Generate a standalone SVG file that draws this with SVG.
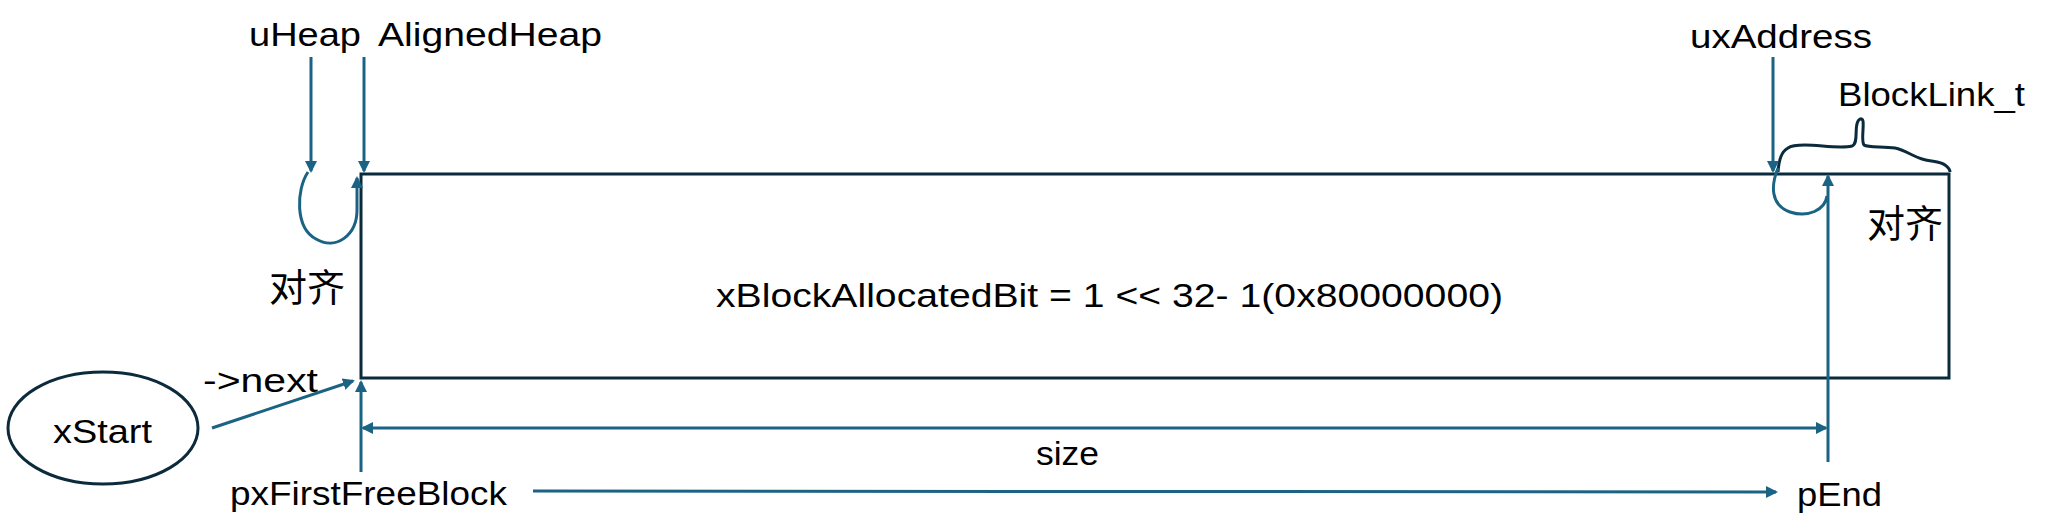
<svg xmlns="http://www.w3.org/2000/svg" width="2050" height="525" viewBox="0 0 2050 525">
<style>
text{font-family:"Liberation Sans","Noto Sans CJK SC",sans-serif;fill:#000;font-size:33px}
.cjk{font-family:"Noto Sans CJK SC",sans-serif;font-size:38px}
.ar{stroke:#1b6384;stroke-width:3;fill:none}
.bx{stroke:#0b2a3c;stroke-width:3;fill:none}
</style>
<defs>
<marker id="ah" markerWidth="14" markerHeight="14" refX="10" refY="6" orient="auto-start-reverse" markerUnits="userSpaceOnUse">
<path d="M0,0 L12,6 L0,12 z" fill="#1b6384"/>
</marker>
</defs>
<g id="heap-block">
<rect class="bx" x="361" y="174" width="1588" height="204" fill="#fff"/>
<text x="716" y="307" textLength="787" lengthAdjust="spacingAndGlyphs">xBlockAllocatedBit = 1 &lt;&lt; 32- 1(0x80000000)</text>
</g>
<g id="xStart">
<ellipse class="bx" cx="103" cy="428" rx="95" ry="56"/>
<text x="53" y="443" textLength="99" lengthAdjust="spacingAndGlyphs">xStart</text>
</g>
<g id="label-uHeap"><text x="249" y="46" textLength="112" lengthAdjust="spacingAndGlyphs">uHeap</text></g>
<g id="label-AlignedHeap"><text x="378" y="46" textLength="224" lengthAdjust="spacingAndGlyphs">AlignedHeap</text></g>
<g id="label-uxAddress"><text x="1690" y="48" textLength="182" lengthAdjust="spacingAndGlyphs">uxAddress</text></g>
<g id="label-BlockLink_t"><text x="1838" y="106" textLength="187" lengthAdjust="spacingAndGlyphs">BlockLink_t</text></g>
<g id="label-align-left"><text class="cjk" x="269" y="301" textLength="76" lengthAdjust="spacingAndGlyphs">对齐</text></g>
<g id="label-align-right"><text class="cjk" x="1867" y="237" textLength="76" lengthAdjust="spacingAndGlyphs">对齐</text></g>
<g id="label-next"><text x="203" y="392" textLength="115" lengthAdjust="spacingAndGlyphs">-&gt;next</text></g>
<g id="label-size"><text x="1036" y="465" textLength="63" lengthAdjust="spacingAndGlyphs">size</text></g>
<g id="label-pxFirstFreeBlock"><text x="230" y="505" textLength="277" lengthAdjust="spacingAndGlyphs">pxFirstFreeBlock</text></g>
<g id="label-pEnd"><text x="1797" y="506" font-size="36" textLength="85" lengthAdjust="spacingAndGlyphs">pEnd</text></g>
<g id="brace">
<path class="bx" d="M1778,172 C1779,160 1781,152 1788,148 C1792,145 1798,145 1805,145 C1820,145 1840,149 1852,146 C1858,144 1855,131 1857,124 C1858,119 1862,117 1863,121 C1864,128 1861,141 1864,145 C1868,148 1884,146 1895,148 C1905,150 1912,156 1922,159 C1932,162 1940,161 1945,165 C1949,168 1950,170 1950,172"/>
</g>
<g id="connectors">
<line class="ar" x1="311" y1="57" x2="311" y2="171" marker-end="url(#ah)"/>
<line class="ar" x1="364" y1="57" x2="364" y2="171" marker-end="url(#ah)"/>
<line class="ar" x1="1773" y1="57" x2="1773" y2="171" marker-end="url(#ah)"/>
<path class="ar" d="M308,172 C296,190 295,228 316,239 C336,251 357,235 357,210 L357,178" marker-end="url(#ah)"/>
<path class="ar" d="M1778,168 C1771,185 1770,205 1790,212 C1808,218 1825,210 1827,196"/>
<line class="ar" x1="1828" y1="462" x2="1828" y2="176" marker-end="url(#ah)"/>
<line class="ar" x1="361" y1="472" x2="361" y2="382" marker-end="url(#ah)"/>
<line class="ar" x1="212" y1="428" x2="353" y2="381" marker-end="url(#ah)"/>
<line class="ar" x1="363" y1="428" x2="1826" y2="428" marker-start="url(#ah)" marker-end="url(#ah)"/>
<line class="ar" x1="533" y1="491" x2="1776" y2="492" marker-end="url(#ah)"/>
</g>
</svg>
